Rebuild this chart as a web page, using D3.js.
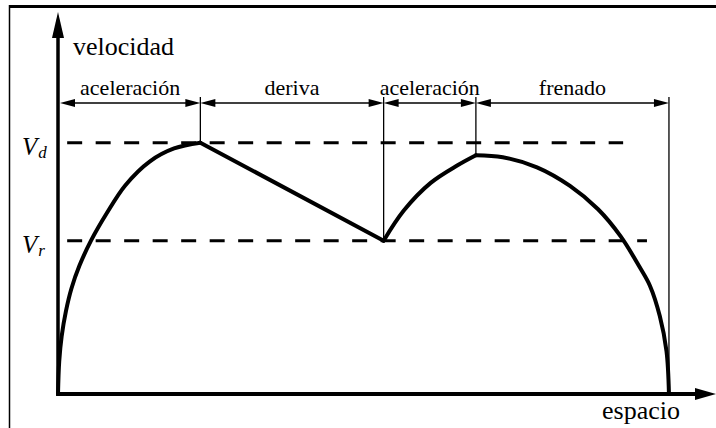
<!DOCTYPE html>
<html>
<head>
<meta charset="utf-8">
<script src="https://cdn.jsdelivr.net/npm/d3@7"></script>
<style>
  body { margin: 0; background: #fff; }
</style>
</head>
<body>
<svg id="chart" width="716" height="428"></svg>
<script>
// velocity levels (Vd = 1)
const Vd = 1.0;
const Vr = 0.61;

// phases along espacio (0..1000)
const phaseNames = ["aceleración", "deriva", "aceleración", "frenado"];
const phaseBounds = [0, 233, 533, 684, 1000];
const boundVel = [0, 1.0, 0.61, 0.95, 0];

// velocity profile: [espacio, velocidad]
const acel1 = [[0, 0], [2, 0.13], [6, 0.23], [13, 0.33], [22, 0.42], [35, 0.51], [54, 0.61],
               [80, 0.72], [110, 0.83], [150, 0.925], [190, 0.977], [233, 1.0]];
const deriva = [[233, 1.0], [533, 0.61]];
const acel2 = [[533, 0.61], [566, 0.73], [610, 0.84], [654, 0.91], [684, 0.95]];
const frenado = [[684, 0.95], [728, 0.942], [784, 0.902], [838, 0.828], [884, 0.735], [921, 0.627],
                 [952, 0.505], [969, 0.43], [985, 0.31], [996, 0.17], [1000, 0]];

const serif = "Liberation Serif";

const svg = d3.select("#chart");

const x = d3.scaleLinear().domain([0, 1077]).range([58, 716]);
const y = d3.scaleLinear().domain([0, 1.52]).range([394, 12]);

// ######## frame
svg.append("line").attr("x1", 9).attr("x2", 716).attr("y1", 6.5).attr("y2", 6.5)
  .attr("stroke", "#000").attr("stroke-width", 3);
svg.append("line").attr("x1", 9.5).attr("x2", 9.5).attr("y1", 5).attr("y2", 428)
  .attr("stroke", "#000").attr("stroke-width", 1.5);

// ######## dashed reference lines + labels
const refs = [{sub: "d", v: Vd, end: 925}, {sub: "r", v: Vr, end: 964}];

svg.selectAll("line.ref")
  .data(refs)
  .join("line")
    .attr("class", "ref")
    .attr("x1", x(15)).attr("x2", d => x(d.end))
    .attr("y1", d => y(d.v)).attr("y2", d => y(d.v))
    .attr("stroke", "#000").attr("stroke-width", 3)
    .attr("stroke-dasharray", "15,13.5");

const lab = svg.selectAll("text.ref")
  .data(refs)
  .join("text")
    .attr("class", "ref")
    .attr("x", 22)
    .attr("y", d => y(d.v) + 12)
    .attr("font-family", serif)
    .attr("font-style", "italic")
    .attr("font-size", 25);
lab.append("tspan").text("V");
lab.append("tspan").attr("dy", 3).attr("dx", 1).attr("font-size", 17).text(d => d.sub);

// ######## axes
const x0 = x(0), y0 = y(0), xEnd = x(1077), yEnd = y(1.52);

svg.append("line").attr("x1", x0 - 1.75).attr("x2", xEnd - 18).attr("y1", y0).attr("y2", y0)
  .attr("stroke", "#000").attr("stroke-width", 4);
svg.append("path")
  .attr("d", `M${xEnd},${y0}L${xEnd - 21},${y0 - 6}L${xEnd - 21},${y0 + 6}Z`)
  .attr("fill", "#000");

svg.append("line").attr("x1", x0).attr("x2", x0).attr("y1", y0 + 2).attr("y2", yEnd + 22)
  .attr("stroke", "#000").attr("stroke-width", 3.5);
svg.append("path")
  .attr("d", `M${x0},${yEnd}L${x0 - 6},${yEnd + 26}L${x0 + 6},${yEnd + 26}Z`)
  .attr("fill", "#000");

svg.append("text").attr("x", 73).attr("y", 55).attr("font-family", serif)
  .attr("font-size", 26).text("velocidad");
svg.append("text").attr("x", 680).attr("y", 419).attr("text-anchor", "end").attr("font-family", serif)
  .attr("font-size", 26).text("espacio");

// ######## phase boundaries
svg.selectAll("line.bound")
  .data(d3.range(1, phaseBounds.length))
  .join("line")
    .attr("class", "bound")
    .attr("x1", i => x(phaseBounds[i])).attr("x2", i => x(phaseBounds[i]))
    .attr("y1", 97).attr("y2", i => y(boundVel[i]))
    .attr("stroke", "#000").attr("stroke-width", 1.3);

// dimension arrows
const dimY = 103;
const phases = phaseNames.map((n, i) => ({
  name: n,
  a: i === 0 ? x0 + 2 : x(phaseBounds[i]),
  b: x(phaseBounds[i + 1])
}));

svg.selectAll("line.dim")
  .data(phases)
  .join("line")
    .attr("class", "dim")
    .attr("x1", d => d.a + 4).attr("x2", d => d.b - 4)
    .attr("y1", dimY).attr("y2", dimY)
    .attr("stroke", "#000").attr("stroke-width", 1.3);

svg.selectAll("path.dimhead")
  .data(phases)
  .join("path")
    .attr("class", "dimhead")
    .attr("d", d => `M${d.a},${dimY}L${d.a + 15},${dimY - 4}L${d.a + 15},${dimY + 4}Z` +
                    `M${d.b},${dimY}L${d.b - 15},${dimY - 4}L${d.b - 15},${dimY + 4}Z`)
    .attr("fill", "#000");

svg.selectAll("text.phase")
  .data(phases)
  .join("text")
    .attr("class", "phase")
    .attr("x", d => (d.a + d.b) / 2)
    .attr("y", 95)
    .attr("text-anchor", "middle")
    .attr("font-family", serif)
    .attr("font-size", 22)
    .text(d => d.name);

// ######## velocity profile
const smooth = d3.line().x(d => x(d[0])).y(d => y(d[1])).curve(d3.curveCatmullRom.alpha(0.5));
const straight = d3.line().x(d => x(d[0])).y(d => y(d[1]));

svg.selectAll("path.profile")
  .data([
    {pts: acel1, gen: smooth},
    {pts: deriva, gen: straight},
    {pts: acel2, gen: smooth},
    {pts: frenado, gen: smooth}
  ])
  .join("path")
    .attr("class", "profile")
    .attr("d", d => d.gen(d.pts))
    .attr("fill", "none")
    .attr("stroke", "#000")
    .attr("stroke-width", 4)
    .attr("stroke-linejoin", "round")
    .attr("stroke-linecap", "round");
</script>
</body>
</html>
